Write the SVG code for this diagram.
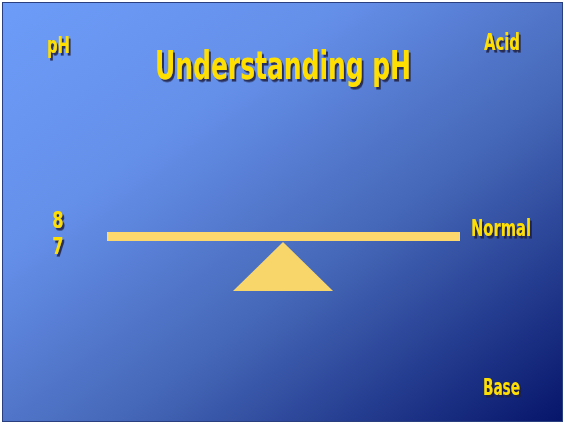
<svg xmlns="http://www.w3.org/2000/svg" width="565" height="424" viewBox="0 0 565 424">
<defs>
<linearGradient id="bg" x1="0" y1="0" x2="1" y2="1">
<stop offset="0" stop-color="#6c9cf8"/>
<stop offset="0.3" stop-color="#6590ea"/>
<stop offset="0.6" stop-color="#4668b8"/>
<stop offset="1" stop-color="#06156a"/>
</linearGradient>
<filter id="sh" x="-10%" y="-10%" width="130%" height="140%">
<feDropShadow dx="2" dy="2" stdDeviation="0.6" flood-color="#1a1a40" flood-opacity="0.85"/>
</filter>
</defs>
<style>
.t{font-family:"DejaVu Sans Condensed","Liberation Sans",sans-serif;font-weight:bold;fill:#ffdf00;filter:url(#sh)}
.s{font-size:18px}
</style>
<rect x="0" y="0" width="565" height="424" fill="#ffffff"/>
<rect x="2.5" y="2.5" width="560" height="419" fill="url(#bg)" stroke="#2a3f80" stroke-width="1"/>
<g id="title" transform="translate(155,79) scale(1,1.28)"><text class="t" x="0" y="0" font-size="31" textLength="256" lengthAdjust="spacingAndGlyphs">Understanding pH</text></g>
<g id="ph" transform="translate(47,53) scale(1,1.3)"><text class="t s" x="0" y="0" textLength="23" lengthAdjust="spacingAndGlyphs">pH</text></g>
<g id="acid" transform="translate(484,50) scale(1,1.3)"><text class="t s" x="0" y="0" textLength="36" lengthAdjust="spacingAndGlyphs">Acid</text></g>
<g id="eight" transform="translate(58,228) scale(1,1.3)"><text class="t s" x="0" y="0" text-anchor="middle">8</text></g>
<g id="seven" transform="translate(58,254) scale(1,1.3)"><text class="t s" x="0" y="0" text-anchor="middle">7</text></g>
<g id="normal" transform="translate(471,236) scale(1,1.3)"><text class="t s" x="0" y="0" textLength="60" lengthAdjust="spacingAndGlyphs">Normal</text></g>
<g id="base" transform="translate(483,395) scale(1,1.3)"><text class="t s" x="0" y="0" textLength="37" lengthAdjust="spacingAndGlyphs">Base</text></g>
<g id="seesaw">
<rect x="107" y="232" width="353" height="9" fill="#fdd86c"/>
<polygon points="283,242 333,291 233,291" fill="#f9d66a"/>
</g>
</svg>
